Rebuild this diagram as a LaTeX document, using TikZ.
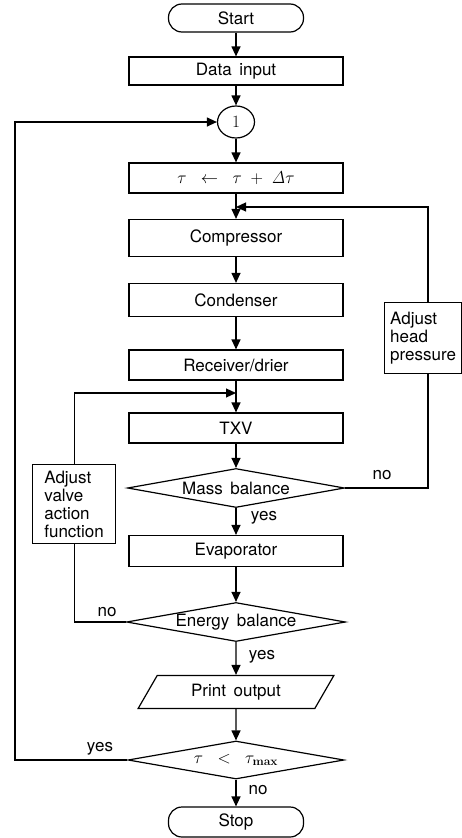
\documentclass[tikz,border=0pt]{standalone}
\usepackage[no-math]{fontspec}
\setmainfont{TeX Gyre Heros}
\usetikzlibrary{arrows.meta, positioning, shapes.geometric, calc}

\begin{document}
\begin{tikzpicture}[
    x=1pt, y=-1pt,
    line width=1.2pt,
    font=\fontsize{17}{18}\selectfont,
    >={Triangle[length=10pt, width=9pt]},
    terminal/.style={draw, rounded corners=13.5pt, minimum width=135pt,
                     minimum height=28pt, inner sep=0pt},
    procbox/.style={draw, minimum width=214pt, minimum height=31pt,
                    inner sep=0pt},
    decision/.style={draw, diamond, aspect=5.6, inner sep=0pt,
                     minimum width=217pt, minimum height=39pt},
    iobox/.style={draw, trapezium, trapezium left angle=56,
                  trapezium right angle=124, trapezium stretches=true,
                  minimum width=196pt, minimum height=33pt, inner sep=0pt},
    notebox/.style={draw, align=left, anchor=north west, inner sep=5pt},
    lbl/.style={inner sep=0pt}
  ]
  \useasboundingbox (0,0) rectangle (462,838);

  % main column
  \node[terminal] (start) at (236, 18) {Start};
  \node[procbox, minimum height=28pt] (data) at (236, 71) {Data\, input};
  \node[draw, ellipse, minimum width=37pt, minimum height=32pt,
        inner sep=0pt] (conn) at (236, 122) {$1$};
  \node[procbox, minimum height=30pt] (tau) at (236, 178)
    {$\tau \;\;\leftarrow\;\; \tau \;+\; \mathit{\Delta}\tau$};
  \node[procbox, minimum height=37pt] (comp) at (236, 238) {Compressor};
  \node[procbox, minimum height=33pt] (cond) at (236, 300) {Condenser};
  \node[procbox, minimum height=30pt] (recv) at (236, 365) {Receiver/drier};
  \node[procbox, minimum height=30pt] (txv) at (236, 428) {TXV};
  \node[decision] (mass) at (236, 488) {Mass\, balance};
  \node[procbox] (evap) at (236, 551) {Evaporator};
  \node[decision, minimum width=219pt] (energy) at (236, 622)
    {Energy\, balance};
  \node[iobox] (print) at (236, 692) {Print\, output};
  \node[decision, minimum width=216pt, minimum height=38pt] (tmax)
    at (236, 760) {$\tau \;\;<\;\; \tau_{\mathbf{max}}$};
  \node[terminal, minimum height=30pt] (stop) at (236, 822) {Stop};

  % side boxes
  \node[notebox, minimum width=77pt, minimum height=71pt] (head)
    at (384, 302) {Adjust\\head\\pressure};
  \node[notebox, minimum width=83pt, minimum height=79pt] (valve)
    at (32, 464) {Adjust\\valve\\action\\function};

  \coordinate (join1) at (236, 207);
  \coordinate (join2) at (236, 393);
  \coordinate (rline) at (428, 0);
  \coordinate (lline) at (15, 0);

  % connectors
  \draw[->] (start) -- (data);
  \draw[->] (data) -- (conn);
  \draw[->] (conn) -- (tau);
  \draw[->] (tau) -- (comp);
  \draw[->] (comp) -- (cond);
  \draw[->] (cond) -- (recv);
  \draw[->] (recv) -- (txv);
  \draw[->] (txv) -- (mass.north);
  \draw[->] (mass.south) -- (evap);
  \draw[->] (evap) -- (energy.north);
  \draw[->] (energy.south) -- (print);
  \draw[->] (print) -- (tmax.north);
  \draw[->] (tmax.south) -- (stop);

  % head pressure loop
  \draw (mass.east) -- (mass.east -| rline) -- (head.south -| rline);
  \draw[->] (head.north -| rline) |- (join1);

  % valve loop
  \draw (energy.west) -| (valve.south);
  \draw[->] (valve.north) |- (join2);

  % time loop
  \draw[->] (tmax.west) -- (tmax.west -| lline) |- (conn.west);

  % branch labels
  \node[lbl] (massno) at (382, 475) {no};
  \node[lbl] (massyes) at (264, 518) {yes};
  \node[lbl] (energyno) at (107, 612) {no};
  \node[lbl] (energyyes) at (262, 657) {yes};
  \node[lbl] (tmaxyes) at (100, 749) {yes};
  \node[lbl] (tmaxno) at (258, 790) {no};
\end{tikzpicture}
\end{document}
